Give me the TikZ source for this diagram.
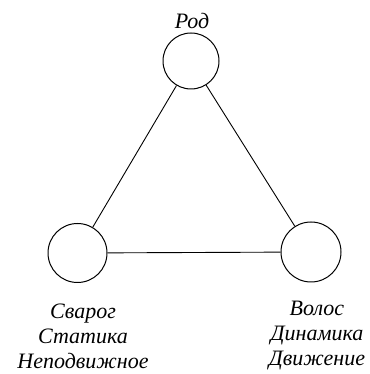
\documentclass[tikz,border=0pt]{standalone}
\usepackage{fontspec}
\setmainfont{Liberation Serif}
\usetikzlibrary{positioning}
\tikzset{krug/.style={draw, circle, line width=1pt, minimum size=57pt, inner sep=0pt},
  podpis/.style={align=center, font=\fontsize{22}{25}\selectfont\itshape}}

\begin{document}
\begin{tikzpicture}[x=1pt, y=1pt]
\useasboundingbox (0,0) rectangle (369,374);
\node[krug, minimum size=56pt] (rod) at (191,313) {};
\node[krug, minimum size=59pt] (svarog) at (77.5,121) {};
\node[krug, minimum size=60pt] (volos) at (311,122) {};
\draw[line width=0.9pt] (rod)--(svarog) (rod)--(volos) (svarog)--(volos);
\node[podpis] (trod) at (192,353) {Род};
\node[podpis] (tsvarog) at (83,38) {Сварог\\Статика\\Неподвижное};
\node[podpis] (tvolos) at (317,38) {Волос\\Динамика\\Движение};
\end{tikzpicture}
\end{document}
